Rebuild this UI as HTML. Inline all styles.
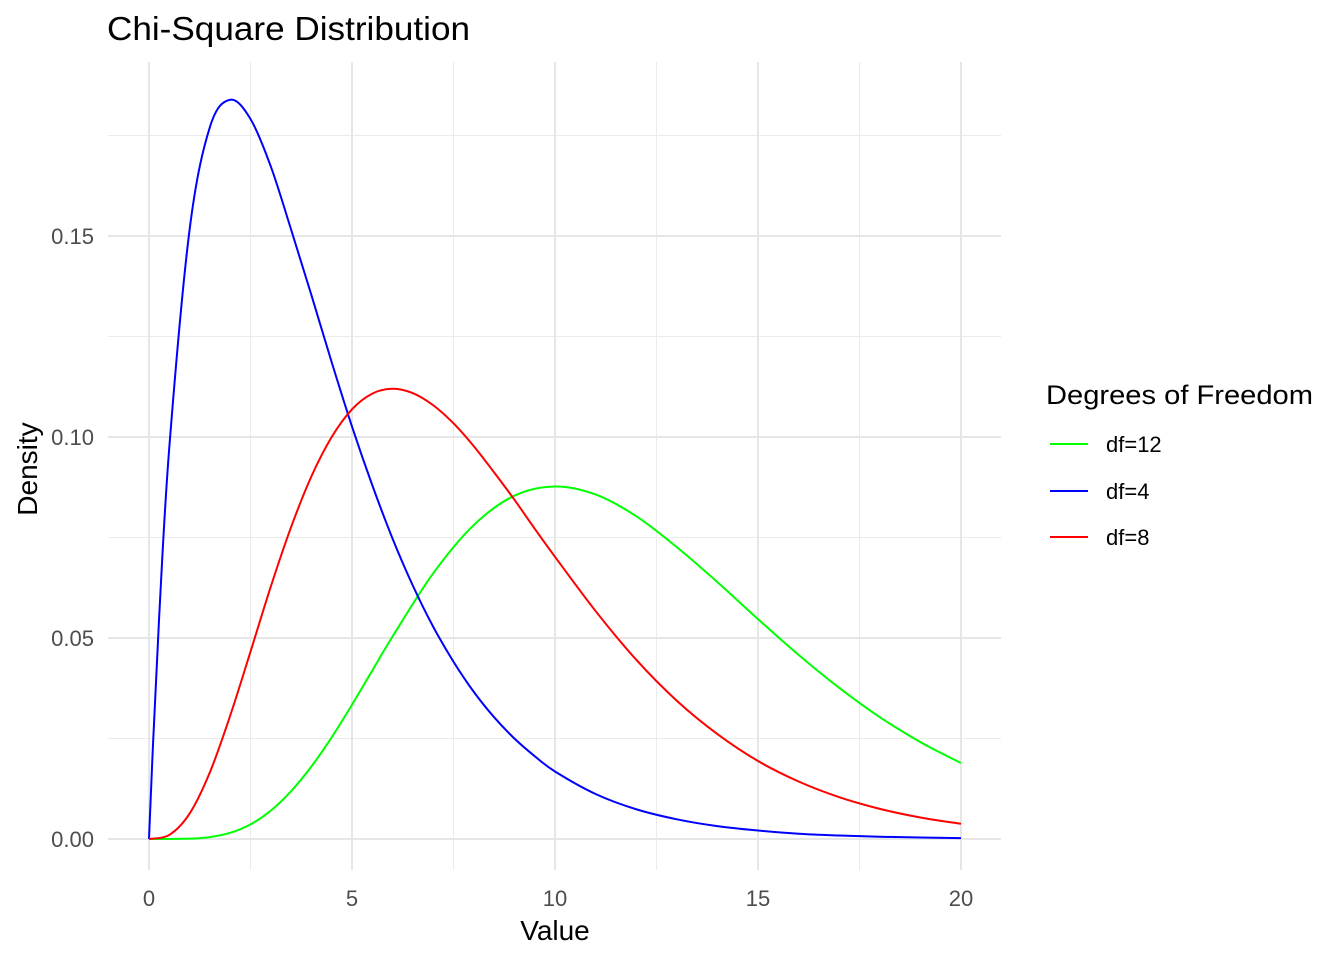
<!DOCTYPE html>
<html><head><meta charset="utf-8"><style>
body{margin:0;background:#fff;}
svg text{font-family:"Liberation Sans",Arial,sans-serif;}
</style></head><body>
<svg id="chart" width="1344" height="960" xmlns="http://www.w3.org/2000/svg">
<rect width="1344" height="960" fill="#fff"/>
<g id="grid"></g>
<g id="series"></g>
<g id="ticks"></g>
<text x="107" y="40" font-size="33" textLength="363" lengthAdjust="spacingAndGlyphs" fill="#000">Chi-Square Distribution</text>
<text x="555" y="940" font-size="28" text-anchor="middle" fill="#000">Value</text>
<text transform="translate(37,469) rotate(-90)" font-size="28" text-anchor="middle" fill="#000">Density</text>
<g>
<text x="1046" y="404" font-size="27" textLength="267" lengthAdjust="spacingAndGlyphs" fill="#000">Degrees of Freedom</text>
<line x1="1050" x2="1088" y1="444" y2="444" stroke="#00ff00" stroke-width="2"/>
<text x="1106" y="452" font-size="22">df=12</text>
<line x1="1050" x2="1088" y1="491" y2="491" stroke="#0000ff" stroke-width="2"/>
<text x="1106" y="499" font-size="22">df=4</text>
<line x1="1050" x2="1088" y1="537" y2="537" stroke="#ff0000" stroke-width="2"/>
<text x="1106" y="545" font-size="22">df=8</text>
</g>
</svg>
<script>
const xTicks=[0,5,10,15,20];
const xTickLabels=["0","5","10","15","20"];
const yTicks=[0,0.05,0.10,0.15];
const yTickLabels=["0.00","0.05","0.10","0.15"];
const df4X=[0,0.1,0.25,0.5,1,1.5,2,2.5,3,3.5,4,4.5,5,5.5,6,6.5,7,7.5,8,8.5,9,9.5,10,11,12,13,14,15,16,17,18,19,20];
const df4Y=[0,0.0238,0.0552,0.0974,0.1516,0.1771,0.1839,0.1791,0.1673,0.1516,0.1353,0.1186,0.1026,0.0880,0.0747,0.0630,0.0528,0.0441,0.0366,0.0303,0.0250,0.0206,0.0168,0.0112,0.0074,0.0049,0.0032,0.0021,0.0013,0.00086,0.00056,0.00036,0.00023];
const df8X=[0,0.5,1,1.5,2,2.5,3,3.5,4,4.5,5,5.5,6,6.5,7,7.5,8,8.5,9,9.5,10,11,12,13,14,15,16,17,18,19,20];
const df8Y=[0,0.00101,0.00632,0.0166,0.0307,0.0466,0.0628,0.0776,0.0902,0.1000,0.1069,0.1108,0.1120,0.1109,0.1079,0.1034,0.0977,0.0912,0.0844,0.0772,0.0702,0.0567,0.0446,0.0344,0.0261,0.0194,0.0143,0.0104,0.0075,0.00535,0.00378];
const df12X=[0,1,1.5,2,2.5,3,3.5,4,4.5,5,5.5,6,7,8,9,10,11,12,13,14,15,16,17,18,19,20];
const df12Y=[0,0.000079,0.00047,0.00153,0.00364,0.00706,0.0119,0.01804,0.0253,0.0334,0.0419,0.0504,0.0661,0.0781,0.0854,0.0877,0.0857,0.0803,0.0726,0.0639,0.0547,0.0458,0.0376,0.0303,0.0241,0.0189];

const X0=149,X1=961,Y0=839,Y15=236;
const sx=v=>X0+(X1-X0)*v/20;
const sy=v=>Y0-(Y0-Y15)*v/0.15;
const NS="http://www.w3.org/2000/svg";
function mk(tag,attrs,parent){const e=document.createElementNS(NS,tag);for(const k in attrs)e.setAttribute(k,attrs[k]);parent.appendChild(e);return e;}
const grid=document.getElementById('grid'),ticks=document.getElementById('ticks'),series=document.getElementById('series');
for(let v=2.5;v<20;v+=5){const l=mk('line',{x1:sx(v),x2:sx(v),y1:62,y2:870,stroke:'#ebebeb','stroke-width':1},grid);
}
for(let v=0.025;v<0.19;v+=0.05){const l=mk('line',{x1:108,x2:1001,y1:sy(v),y2:sy(v),stroke:'#ebebeb','stroke-width':1},grid);
}
xTicks.forEach((v,i)=>{const l=mk('line',{x1:sx(v),x2:sx(v),y1:62,y2:870,stroke:'#e6e6e6','stroke-width':2},grid);

const t=mk('text',{x:sx(v),y:906,'font-size':22,'text-anchor':'middle',fill:'#4d4d4d'},ticks);t.textContent=xTickLabels[i];
});
yTicks.forEach((v,i)=>{const l=mk('line',{x1:108,x2:1001,y1:sy(v),y2:sy(v),stroke:'#e6e6e6','stroke-width':2},grid);

const t=mk('text',{x:94,y:sy(v)+8,'font-size':22,'text-anchor':'end',fill:'#4d4d4d'},ticks);t.textContent=yTickLabels[i];
});
function path(xs,ys){const p=xs.map((x,i)=>[sx(x),sy(ys[i])]);let d='M'+p[0][0]+','+p[0][1];
for(let i=0;i<p.length-1;i++){const a=p[i-1]||p[i],b=p[i],c=p[i+1],e=p[i+2]||c;
d+=' C'+(b[0]+(c[0]-a[0])/6)+','+(b[1]+(c[1]-a[1])/6)+' '+(c[0]-(e[0]-b[0])/6)+','+(c[1]-(e[1]-b[1])/6)+' '+c[0]+','+c[1];}return d;}
[[df12X,df12Y,'#00ff00','line-df12'],[df4X,df4Y,'#0000ff','line-df4'],[df8X,df8Y,'#ff0000','line-df8']].forEach(s=>{
const e=mk('path',{d:path(s[0],s[1]),fill:'none',stroke:s[2],'stroke-width':2},series);
});
</script>
</body></html>
